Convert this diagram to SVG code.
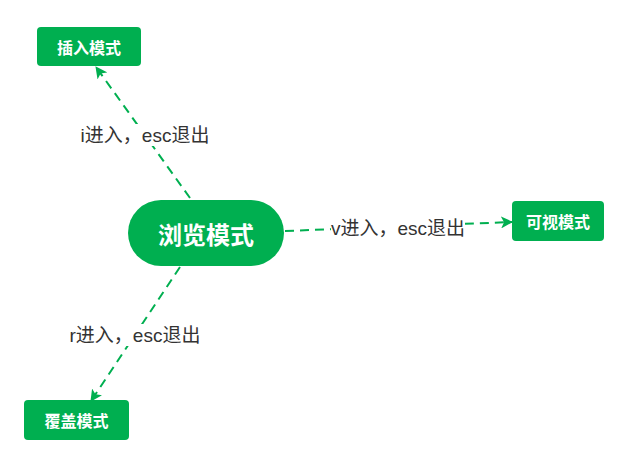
<svg xmlns="http://www.w3.org/2000/svg" width="628" height="450" viewBox="0 0 628 450">
<style>
.node{fill:#00AF50;}
.nt{fill:#fff;font-family:"Noto Sans CJK SC","Liberation Sans",sans-serif;font-weight:bold;text-anchor:middle;dominant-baseline:central;}
.edge{stroke:#00AF50;stroke-width:2;fill:none;stroke-dasharray:9 6;marker-end:url(#arr);}
.lbl{fill:#333;font-family:"Liberation Sans","Noto Sans CJK SC",sans-serif;font-size:19px;text-anchor:middle;dominant-baseline:central;}
.lb{fill:#fff;}
</style>
<defs>
<marker id="arr" viewBox="0 0 12 12" refX="11" refY="6" markerWidth="12" markerHeight="12" orient="auto" markerUnits="userSpaceOnUse">
<path d="M0,0 L12,6 L0,12 L3,6 Z" fill="#00AF50"/>
</marker>
</defs>
<rect width="628" height="450" fill="#fff"/>
<g id="connectors">
<path class="edge" d="M190,198 L96,67"/>
<rect class="lb" x="80" y="124" width="130" height="22"/>
<text class="lbl" x="145" y="135">i进入，esc退出</text>
<path class="edge" d="M285,231 L512,222"/>
<rect class="lb" x="331" y="217" width="134" height="22"/>
<text class="lbl" x="398" y="228">v进入，esc退出</text>
<path class="edge" d="M180,267 L91,401"/>
<rect class="lb" x="70" y="324" width="130" height="22"/>
<text class="lbl" x="135" y="335">r进入，esc退出</text>
</g>
<g id="node-browse">
<rect class="node" x="128" y="200" width="156" height="66" rx="33"/>
<text class="nt" x="206" y="233" font-size="24">浏览模式</text>
</g>
<g id="node-insert">
<rect class="node" x="37" y="27" width="104" height="39" rx="4"/>
<text class="nt" x="89" y="46.5" font-size="16">插入模式</text>
</g>
<g id="node-visual">
<rect class="node" x="512" y="201" width="92" height="40" rx="4"/>
<text class="nt" x="558" y="221" font-size="16">可视模式</text>
</g>
<g id="node-overwrite">
<rect class="node" x="24" y="400" width="105" height="40" rx="4"/>
<text class="nt" x="76.5" y="420" font-size="16">覆盖模式</text>
</g>
</svg>
